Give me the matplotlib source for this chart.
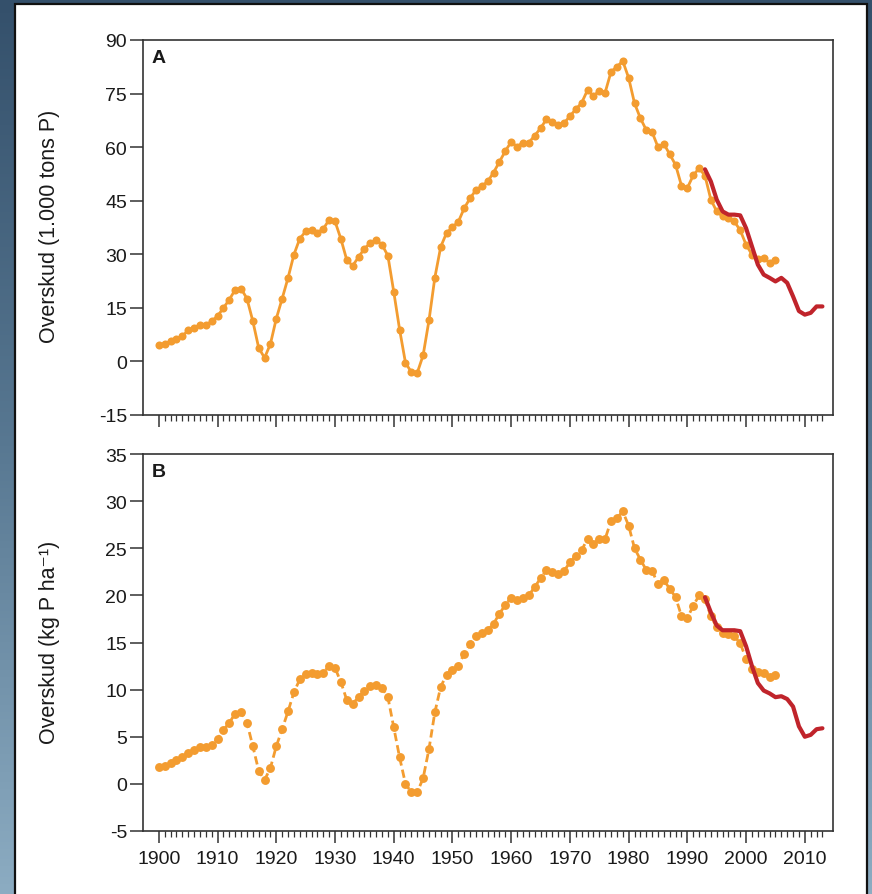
import matplotlib
matplotlib.use("Agg")
import matplotlib.pyplot as plt
import numpy as np
from matplotlib.colors import LinearSegmentedColormap
from matplotlib.patches import Rectangle
from matplotlib.ticker import FixedLocator

plt.rcParams['font.family'] = ['Liberation Sans', 'DejaVu Sans']
plt.rcParams['axes.unicode_minus'] = False

# ---------------- data ----------------
years_orange = list(range(1900, 2006))
surplus_tons = [
    4.7, 4.9, 5.7, 6.3, 7.1, 8.7, 9.4, 10.3, 10.1, 11.3,            # 1900-1909
    12.7, 15.0, 17.3, 20.1, 20.4, 17.6, 11.3, 3.8, 1.0, 4.9,         # 1910-1919
    12.0, 17.6, 23.4, 29.9, 34.4, 36.4, 36.9, 36.1, 37.1, 39.7,      # 1920-1929
    39.2, 34.3, 28.4, 26.8, 29.2, 31.6, 33.1, 34.0, 32.7, 29.6,      # 1930-1939
    19.5, 8.9, -0.4, -3.0, -3.2, 1.7, 11.5, 23.5, 32.1, 36.0,        # 1940-1949
    37.6, 39.1, 42.9, 45.7, 48.0, 49.1, 50.4, 52.9, 55.9, 58.9,      # 1950-1959
    61.5, 60.1, 61.3, 61.3, 63.2, 65.3, 67.8, 67.1, 66.2, 66.7,      # 1960-1969
    68.7, 70.6, 72.4, 76.0, 74.3, 75.8, 75.3, 81.1, 82.5, 84.1,      # 1970-1979
    79.4, 72.3, 68.1, 64.8, 64.2, 60.0, 60.9, 58.0, 55.0, 49.2,      # 1980-1989
    48.6, 52.1, 54.1, 52.0, 45.3, 42.0, 40.6, 40.1, 39.2, 36.7,      # 1990-1999
    32.7, 29.9, 28.7, 29.0, 27.6, 28.3,                              # 2000-2005
]
surplus_kg_ha = [
    1.8, 1.9, 2.2, 2.55, 2.85, 3.3, 3.6, 3.9, 3.9, 4.15,             # 1900-1909
    4.75, 5.7, 6.5, 7.45, 7.6, 6.5, 4.0, 1.4, 0.4, 1.7,              # 1910-1919
    4.0, 5.8, 7.7, 9.7, 11.1, 11.7, 11.8, 11.7, 11.8, 12.5,          # 1920-1929
    12.3, 10.8, 8.9, 8.5, 9.2, 9.9, 10.35, 10.5, 10.2, 9.2,          # 1930-1939
    6.0, 2.8, 0.0, -0.9, -0.9, 0.6, 3.7, 7.6, 10.3, 11.6,            # 1940-1949
    12.05, 12.55, 13.8, 14.85, 15.7, 16.0, 16.3, 17.0, 18.05, 19.0,  # 1950-1959
    19.75, 19.5, 19.75, 20.0, 20.9, 21.8, 22.7, 22.5, 22.3, 22.6,    # 1960-1969
    23.5, 24.2, 24.8, 26.0, 25.5, 26.0, 26.0, 27.9, 28.2, 28.9,      # 1970-1979
    27.4, 25.0, 23.8, 22.7, 22.6, 21.2, 21.6, 20.7, 19.8, 17.8,      # 1980-1989
    17.6, 18.9, 20.0, 19.6, 17.8, 16.6, 16.0, 15.85, 15.7, 14.9,     # 1990-1999
    13.3, 12.2, 11.9, 11.8, 11.35, 11.5,                             # 2000-2005
]

years_red = list(range(1993, 2014))
red_tons = [53.8, 50.4, 45.3, 42.0, 41.1, 41.1, 40.9, 37.3, 32.2, 27.1,
            24.3, 23.4, 22.4, 23.4, 22.0, 18.2, 14.1, 13.1, 13.6, 15.4, 15.4]
red_kg_ha = [19.8, 18.2, 16.8, 16.3, 16.3, 16.3, 16.2, 14.6, 12.5, 10.7,
             9.9, 9.6, 9.2, 9.3, 9.0, 8.2, 6.1, 5.0, 5.2, 5.8, 5.9]

yticks_a = [-15, 0, 15, 30, 45, 60, 75, 90]
yticks_b = [-5, 0, 5, 10, 15, 20, 25, 30, 35]
xticks_major = list(range(1900, 2011, 10))
xticks_minor = list(range(1900, 2014))

ylabel_a = "Overskud (1.000 tons P)"
ylabel_b = "Overskud (kg P ha\u207b\u00b9)"

ORANGE = "#F39C30"
RED = "#C0242B"
SPINE = "#333333"

W, H = 872, 895
fig = plt.figure(figsize=(W / 100, H / 100), dpi=100)

# background gradient (dark at top, lighter at bottom) + white panel
ax_bg = fig.add_axes([0, 0, 1, 1], zorder=-10)
grad = np.linspace(0, 1, 256).reshape(-1, 1)
cmap_bg = LinearSegmentedColormap.from_list("bg", ["#34506b", "#587892", "#8cacc2"])
ax_bg.imshow(grad, aspect="auto", extent=[0, 1, 0, 1], origin="upper",
             cmap=cmap_bg, transform=ax_bg.transAxes)
ax_bg.set_xlim(0, 1)
ax_bg.set_ylim(0, 1)
ax_bg.axis("off")
ax_bg.add_patch(Rectangle((15 / W, -0.01), (867 - 15) / W, 1 - 5 / H + 0.01,
                          transform=ax_bg.transAxes, facecolor="white",
                          edgecolor="#111111", linewidth=1.6))

left = 143 / W
width = (833 - 143) / W
ax_a = fig.add_axes([left, 1 - 416 / H, width, (416 - 41) / H])
ax_b = fig.add_axes([left, 1 - 832 / H, width, (832 - 455) / H])

TICK_FS = 14

for ax, yt in ((ax_a, yticks_a), (ax_b, yticks_b)):
    ax.set_xlim(1897.3, 2014.8)
    ax.set_ylim(yt[0], yt[-1])
    ax.set_yticks(yt)
    ax.set_yticklabels([str(v) for v in yt])
    ax.xaxis.set_major_locator(FixedLocator(xticks_major))
    ax.xaxis.set_minor_locator(FixedLocator(xticks_minor))
    for sp in ax.spines.values():
        sp.set_color(SPINE)
        sp.set_linewidth(1.2)
    ax.tick_params(axis="y", direction="out", length=9.5, width=1.1,
                   color=SPINE, labelsize=TICK_FS, pad=2, labelcolor="#1a1a1a")
    ax.tick_params(axis="x", which="major", direction="out", length=8.5,
                   width=1.1, color=SPINE, labelsize=TICK_FS, pad=5,
                   labelcolor="#1a1a1a")
    ax.tick_params(axis="x", which="minor", direction="out", length=4,
                   width=0.9, color=SPINE)

ax_a.set_xticklabels([])
ax_b.set_xticklabels([str(v) for v in xticks_major])

# Panel A
ax_a.plot(years_orange, surplus_tons, color=ORANGE, linewidth=2.0,
          marker="o", markersize=5.8, markeredgewidth=0, zorder=3)
ax_a.plot(years_red, red_tons, color=RED, linewidth=3.0,
          solid_capstyle="round", solid_joinstyle="round", zorder=4)

# Panel B
ax_b.plot(years_orange, surplus_kg_ha, color=ORANGE, linewidth=2.0,
          linestyle=(0, (3, 1.5)), marker="o", markersize=6.4,
          markeredgewidth=0, zorder=3)
ax_b.plot(years_red, red_kg_ha, color=RED, linewidth=3.0,
          solid_capstyle="round", solid_joinstyle="round", zorder=4)

ax_a.text(0.012, 0.977, "A", transform=ax_a.transAxes, fontsize=14,
          fontweight="bold", ha="left", va="top", color="#1a1a1a")
ax_b.text(0.012, 0.977, "B", transform=ax_b.transAxes, fontsize=14,
          fontweight="bold", ha="left", va="top", color="#1a1a1a")

fig.text(50 / W, 1 - 226 / H, ylabel_a, rotation=90, ha="center",
         va="center", fontsize=15.5, color="#1a1a1a")
fig.text(50 / W, 1 - 642 / H, ylabel_b, rotation=90, ha="center",
         va="center", fontsize=15.5, color="#1a1a1a")

fig.savefig("out.png", dpi=100)
